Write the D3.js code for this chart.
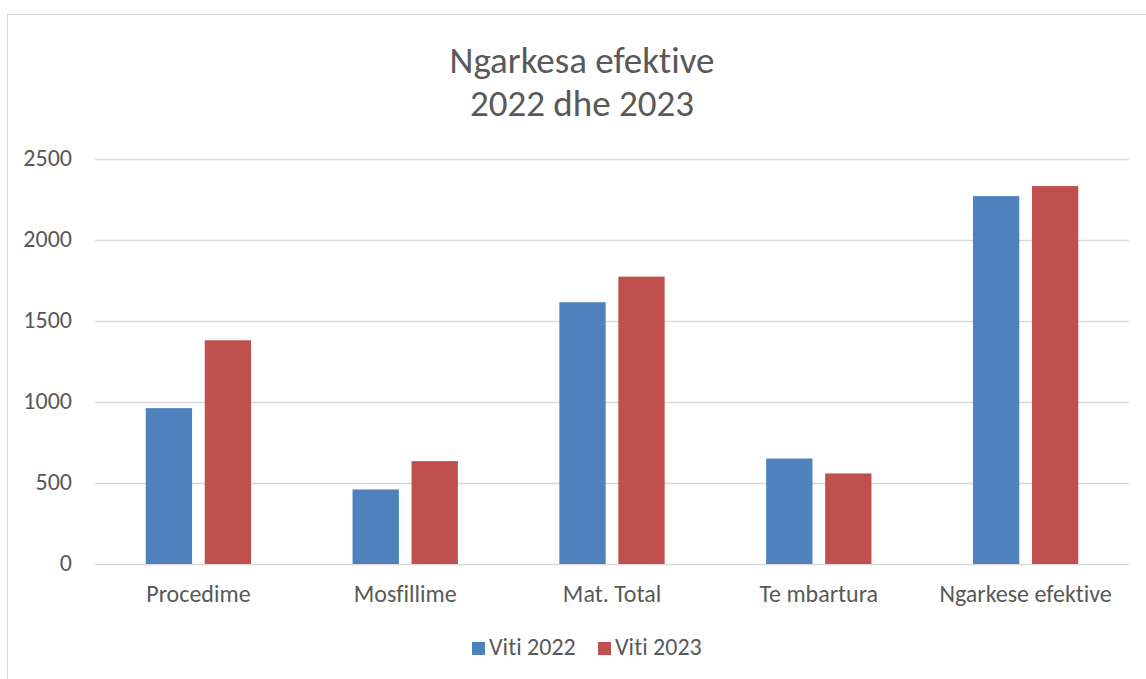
<!DOCTYPE html>
<html lang="en">
<head>
  <meta charset="UTF-8">
  <title>Ngarkesa efektive 2022 dhe 2023</title>
  <script src="https://d3js.org/d3.v7.min.js"></script>
  <style>
    body { margin: 0; background: #fff; }
    text { font-family: Carlito, Calibri, Lato, sans-serif; fill: #595959; font-variant-ligatures: none; }
  </style>
</head>
<body>
  <div class="canvas"></div>
  <script>
    const categories = ["Procedime", "Mosfillime", "Mat. Total", "Te mbartura", "Ngarkese efektive"];
    const seriesNames = ["Viti 2022", "Viti 2023"];
    const viti2022 = [962, 460, 1616, 651, 2271];
    const viti2023 = [1381, 635, 1774, 559, 2333];
    const yTicks = [0, 500, 1000, 1500, 2000, 2500];
    const colors = ["#4f81bd", "#c0504d"];

    const svgWidth = 1146;
    const svgHeight = 679;
    const margin = { top: 159, right: 17, bottom: 115, left: 95 };
    const graphWidth = svgWidth - margin.left - margin.right;
    const graphHeight = svgHeight - margin.top - margin.bottom;

    const svg = d3.select(".canvas")
      .append("svg")
      .attr("width", svgWidth)
      .attr("height", svgHeight);

    // chart border
    svg.append("rect")
      .attr("x", 7.5).attr("y", 14.5)
      .attr("width", svgWidth).attr("height", svgHeight)
      .attr("fill", "none")
      .attr("stroke", "#d9d9d9");

    // title
    const title = svg.append("text")
      .attr("text-anchor", "middle")
      .attr("font-size", 37)
      .attr("font-weight", 300);
    title.append("tspan").attr("x", 582).attr("y", 73).text("Ngarkesa efektive");
    title.append("tspan").attr("x", 582).attr("y", 116).text("2022 dhe 2023");

    const graph = svg.append("g")
      .attr("transform", `translate(${margin.left}, ${margin.top})`);

    const x0 = d3.scaleBand().domain(categories).range([0, graphWidth]);
    const x1 = d3.scaleBand().domain(seriesNames)
      .range([0, x0.bandwidth()])
      .paddingInner(0.215)
      .paddingOuter(0.86);
    const y = d3.scaleLinear().domain([0, 2500]).range([graphHeight, 0]);

    // gridlines
    graph.append("g")
      .selectAll("line")
      .data(yTicks)
      .join("line")
      .attr("x1", 0).attr("x2", graphWidth)
      .attr("y1", d => Math.round(y(d)) + 0.5)
      .attr("y2", d => Math.round(y(d)) + 0.5)
      .attr("stroke", "#d9d9d9")
      .attr("stroke-width", 1.3);

    const yAxis = d3.axisLeft(y).tickValues(yTicks).tickFormat(d3.format("d")).tickSize(0).tickPadding(23);
    const yAxisGroup = graph.append("g").call(yAxis);
    yAxisGroup.attr("font-family", null).attr("font-size", null);
    yAxisGroup.select(".domain").remove();
    yAxisGroup.selectAll("text")
      .attr("font-size", 24)
      .attr("dy", "0.27em")
      .attr("fill", "#595959");

    const xAxis = d3.axisBottom(x0).tickSize(0);
    const xAxisGroup = graph.append("g")
      .attr("transform", `translate(0, ${graphHeight})`)
      .call(xAxis);
    xAxisGroup.attr("font-family", null).attr("font-size", null);
    xAxisGroup.select(".domain").remove();
    xAxisGroup.selectAll("text")
      .attr("font-size", 24)
      .attr("y", 38)
      .attr("dy", null)
      .attr("fill", "#595959");

    const data = categories.map((c, i) => ({ category: c, values: [viti2022[i], viti2023[i]] }));

    const groups = graph.selectAll("g.cat")
      .data(data)
      .join("g")
      .attr("class", "cat")
      .attr("transform", d => `translate(${x0(d.category)}, 0)`);

    groups.selectAll("rect")
      .data(d => d.values.map((v, j) => ({ series: seriesNames[j], value: v, color: colors[j] })))
      .join("rect")
      .attr("x", d => x1(d.series))
      .attr("width", x1.bandwidth())
      .attr("y", d => y(d.value))
      .attr("height", d => graphHeight - y(d.value))
      .attr("fill", d => d.color);

    // legend
    const legendX = [472, 598];
    const legend = svg.append("g")
      .selectAll("g")
      .data(seriesNames)
      .join("g")
      .attr("transform", (d, i) => `translate(${legendX[i]}, 655)`);
    legend.append("rect")
      .attr("x", 0).attr("y", -13)
      .attr("width", 13).attr("height", 13)
      .attr("fill", (d, i) => colors[i]);
    legend.append("text")
      .attr("x", 17).attr("y", 0)
      .attr("font-size", 24)
      .text(d => d);
  </script>
</body>
</html>
